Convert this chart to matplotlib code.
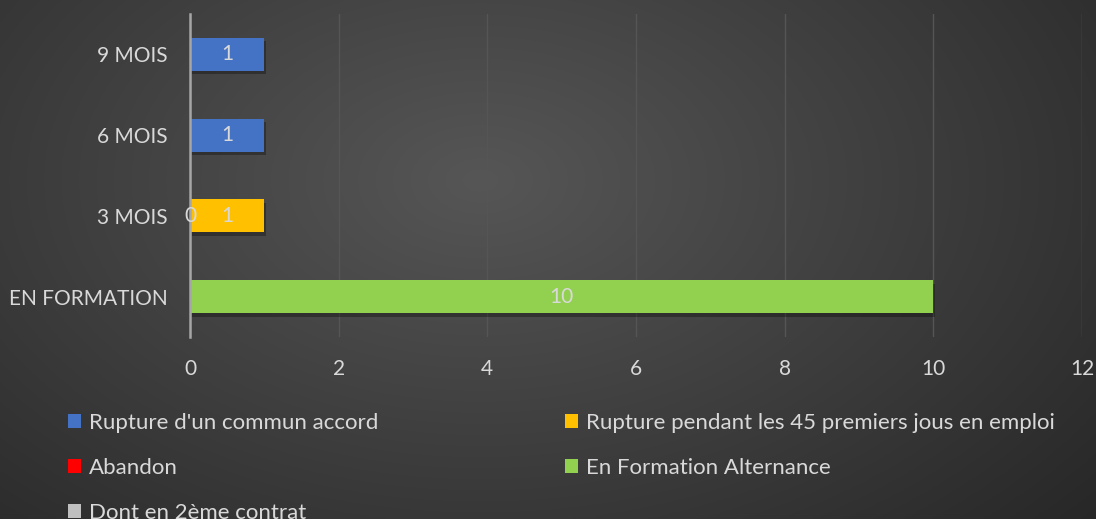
import numpy as np
import matplotlib
matplotlib.use("Agg")
import matplotlib.pyplot as plt
from matplotlib.patches import Patch
import matplotlib.patheffects as pe

plt.rcParams['font.family'] = ['Lato', 'DejaVu Sans']

# data
categories = ["EN FORMATION", "3 MOIS", "6 MOIS", "9 MOIS"]
series_names = ["Rupture d'un commun accord",
                "Rupture pendant les 45 premiers jous en emploi",
                "Abandon",
                "En Formation Alternance",
                "Dont en 2ème contrat"]
commun = [None, 0, 1, 1]
premiers45 = [None, 1, None, None]
abandon = [None, None, None, None]
alternance = [10, None, None, None]
deuxieme = [None, None, None, None]
x_ticks = [0, 2, 4, 6, 8, 10, 12]

colors = ["#4472C4", "#FFC000", "#FF0000", "#92D050", "#BFBFBF"]
txt = "#D9D9D9"

fig = plt.figure(figsize=(10.96, 5.19), dpi=100)

# background gradient
bg = fig.add_axes([0, 0, 1, 1], zorder=-10)
h, w = 519, 1096
yy, xx = np.mgrid[0:h, 0:w]
r = np.sqrt(((xx - 480) / 820.0) ** 2 + ((yy - 180) / 520.0) ** 2)
r = np.clip(r, 0, 1)
c_in = np.array([0x56, 0x56, 0x56]) / 255
c_out = np.array([0x27, 0x27, 0x27]) / 255
img = c_in[None, None, :] + (c_out - c_in)[None, None, :] * r[..., None]
bg.imshow(img, aspect='auto', extent=[0, 1, 0, 1])
bg.axis('off')

ax = fig.add_axes([190 / 1096, 1 - 337 / 519, 892 / 1096, 323 / 519])
ax.set_facecolor('none')

y = np.arange(len(categories))
left = np.zeros(len(categories))
shadow = [pe.SimplePatchShadow(offset=(1.5, -2.5), shadow_rgbFace='black', alpha=0.3), pe.Normal()]
for name, vals, col in zip(series_names, [commun, premiers45, abandon, alternance, deuxieme], colors):
    v = np.array([np.nan if a is None else a for a in vals], dtype=float)
    bars = ax.barh(y, np.nan_to_num(v), left=left, height=0.41, color=col, zorder=3)
    for b, val in zip(bars, v):
        if np.isnan(val):
            b.set_visible(False)
        elif val > 0:
            b.set_path_effects(shadow)
    labels = ['' if np.isnan(a) else str(int(a)) for a in v]
    ax.bar_label(bars, labels=labels, label_type='center', color=txt, fontsize=15, zorder=5)
    left = left + np.nan_to_num(v)

ax.set_xlim(0, 12)
ax.set_ylim(-0.5, 3.5)
ax.set_xticks(x_ticks)
ax.set_yticks(y)
ax.set_yticklabels(categories)
ax.tick_params(axis='x', length=0, pad=16, labelsize=15, labelcolor=txt)
ax.tick_params(axis='y', length=0, pad=16, labelsize=15, labelcolor=txt)
ax.grid(axis='x', color='#555555', linewidth=1, zorder=0)
ax.set_axisbelow(True)
for s in ['top', 'right', 'bottom']:
    ax.spines[s].set_visible(False)
ax.spines['left'].set_color('#A6A6A6')
ax.spines['left'].set_linewidth(1.8)
ax.spines['left'].set_zorder(4)

handles = [Patch(facecolor=c, edgecolor='none', label=n) for n, c in zip(series_names, colors)]
kw = dict(frameon=False, fontsize=16, labelcolor=txt, handlelength=0.6, handleheight=0.6,
          handletextpad=0.35, labelspacing=1.12, borderpad=0, borderaxespad=0, loc='upper left')
fig.legend(handles=[handles[0], handles[2], handles[4]], bbox_to_anchor=(68 / 1096, 1 - 413 / 519), **kw)
fig.legend(handles=[handles[1], handles[3]], bbox_to_anchor=(565 / 1096, 1 - 413 / 519), **kw)

fig.savefig("out.png", dpi=100)
